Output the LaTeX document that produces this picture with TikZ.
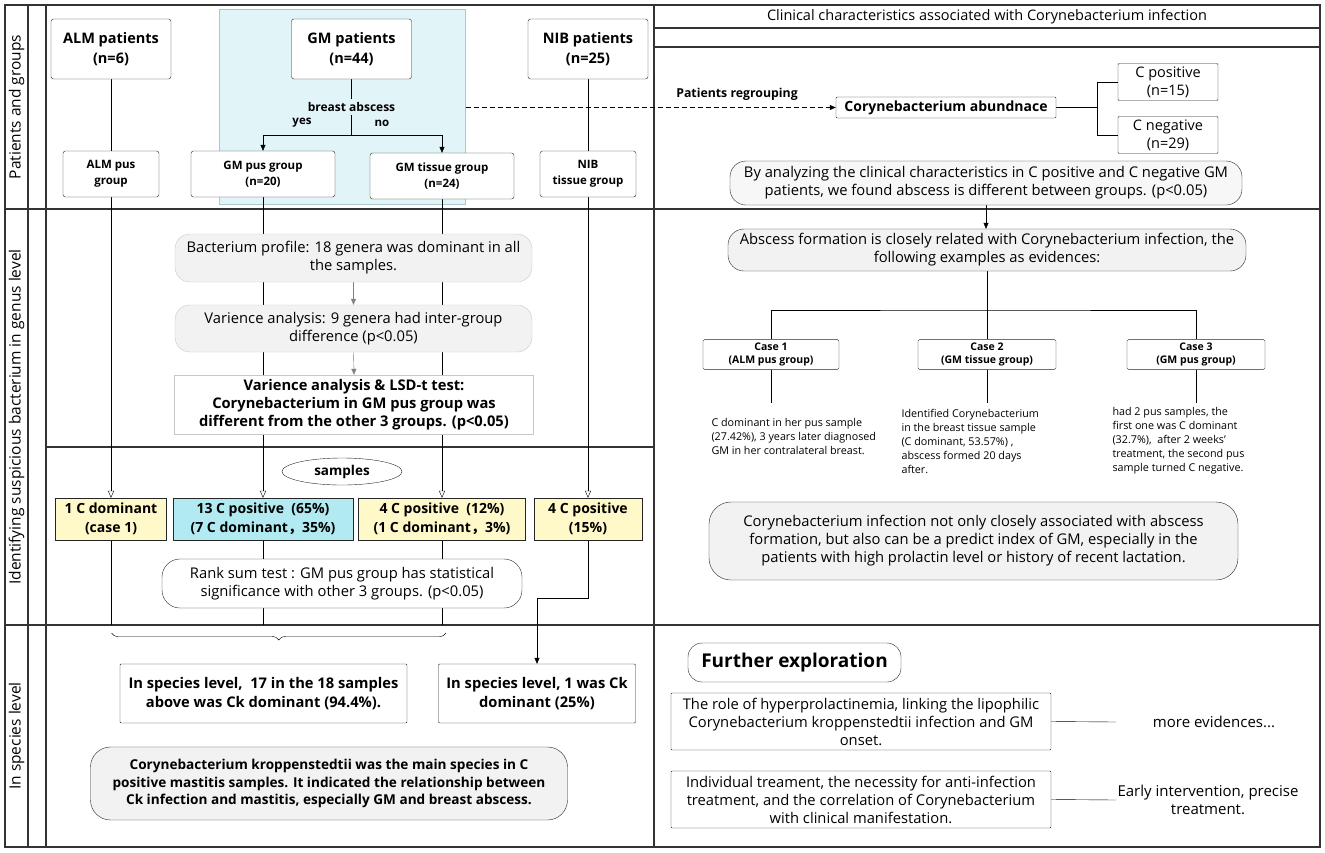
\documentclass[tikz,border=0pt]{standalone}
\usepackage{fontspec}
\setmainfont{Open Sans}
\newfontfamily\cjk{Noto Sans CJK SC}
\usepackage{tikz}
\usetikzlibrary{arrows.meta}
\usetikzlibrary{shapes.geometric}
\usetikzlibrary{decorations.pathreplacing}

\definecolor{bluebg}{HTML}{E1F5F8}
\definecolor{blueln}{HTML}{A9C8CD}
\definecolor{greyfill}{HTML}{F2F2F2}
\definecolor{greyln}{HTML}{C8C8C8}
\definecolor{yfill}{HTML}{FFF8C8}
\definecolor{cfill}{HTML}{B2EAF2}

\newcommand{\fsz}[2]{\fontsize{#1}{#2}\selectfont}

\pgfdeclarelayer{back}
\pgfdeclarelayer{wires}
\pgfsetlayers{back,wires,main}

\tikzset{
  frame/.style={draw=black!80, line width=1.3pt},
  lanelab/.style={rotate=90, font=\fsz{15.5}{18}},
  pbox/.style={draw=black!85, fill=white, rounded corners=2.5pt, align=center,
    font=\fsz{14.5}{20}\bfseries, minimum width=120, minimum height=60},
  gbox/.style={draw=black!85, fill=white, rounded corners=2.5pt, align=center,
    font=\fsz{11.5}{16}\bfseries, minimum height=46},
  sbox/.style={draw=black!85, fill=yfill, align=center,
    font=\fsz{14}{19}\bfseries, minimum height=42},
  plainbox/.style={draw=black!85, fill=white, rounded corners=1pt, align=center,
    font=\fsz{14.75}{18}},
  softbox/.style={draw=greyln, fill=greyfill, rounded corners=15pt, align=center,
    font=\fsz{14.75}{18}},
  roundbox/.style={draw=black!85, fill=greyfill, rounded corners=16pt, align=center,
    font=\fsz{14.75}{18}},
  casebox/.style={draw=black!85, fill=white, rounded corners=1.5pt, align=center,
    font=\fsz{10.5}{13}\bfseries, minimum height=26},
  casetxt/.style={anchor=west, align=left, font=\fsz{10.75}{14}},
  arr/.style={-{Triangle[length=6pt,width=5pt]}},
  oarr/.style={-{Triangle[open,length=7pt,width=6pt]}},
}

\begin{document}
\begin{tikzpicture}[x=1pt,y=-1pt,line width=1.1pt]
  \useasboundingbox (0,0) rectangle (1325,852);

  % lanes and frame
  \begin{pgfonlayer}{back}
    \draw[frame] (5,5) rectangle (1320,847);
    \draw[frame] (28,5) -- (28,847);
    \draw[frame] (46,5) -- (46,847);
    \draw[frame] (654,5) -- (654,847);
    \draw[frame] (5,209) -- (1320,209);
    \draw[frame] (5,625) -- (1320,625);
    \draw[frame] (46,447) -- (654,447);
    \draw[frame] (654,28) -- (1320,28);
    \draw[frame] (654,47) -- (1320,47);
    \node[draw=blueln, fill=bluebg, line width=1pt, inner sep=0pt,
      minimum width=246, minimum height=195] (gmarea) at (342,106.5) {};
  \end{pgfonlayer}

  \node[lanelab] (lab1) at (16.5,107) {Patients and groups};
  \node[lanelab] (lab2) at (16.5,417) {Identifying suspicious bacterium in genus level};
  \node[lanelab] (lab3) at (16.5,736) {In species level};

  % patients and groups
  \node[pbox] (alm) at (111,49) {ALM patients\\(n=6)};
  \node[pbox] (gm) at (351.5,49) {GM patients\\(n=44)};
  \node[pbox] (nib) at (588,49) {NIB patients\\(n=25)};
  \node[fill=bluebg, inner sep=3pt, font=\fsz{12}{14}\bfseries] (absq) at (351.5,107) {breast abscess};
  \node[font=\fsz{11.5}{13}\bfseries] (yes) at (302,123) {yes};
  \node[font=\fsz{11.5}{13}\bfseries] (no) at (382,123) {no};
  \coordinate (split) at (351.5,135);
  \node[gbox, minimum width=96] (almpus) at (111,174) {ALM pus\\group};
  \node[gbox, minimum width=144] (gmpus) at (263,174) {GM pus group\\(n=20)};
  \node[gbox, minimum width=144] (gmtis) at (442,176) {GM tissue group\\(n=24)};
  \node[gbox, minimum width=96] (nibtis) at (588,174) {NIB\\tissue group};

  % genus level
  \node[softbox, minimum width=357, minimum height=48] (profile) at (353.5,258)
    {Bacterium profile: 18 genera was dominant in all\\the samples.};
  \node[softbox, minimum width=357, minimum height=47] (varia) at (353.5,328.5)
    {Varience analysis: 9 genera had inter-group\\difference (p<0.05)};
  \node[draw=greyln, fill=white, align=center, font=\fsz{14.7}{18}\bfseries,
    minimum width=359, minimum height=59] (lsd) at (354,404.5)
    {Varience analysis \& LSD-t test:\\Corynebacterium in GM pus group was\\different from the other 3 groups. (p<0.05)};
  \node[draw=black!85, fill=white, ellipse, font=\fsz{13.5}{15}\bfseries,
    minimum width=120, minimum height=27, inner sep=0pt] (samples) at (342,471.5) {samples};
  \node[sbox, minimum width=111] (y1) at (111,519) {1 C dominant\\(case 1)};
  \node[sbox, fill=cfill, minimum width=180] (y2) at (263,519)
    {13 C positive \ (65\%)\\(7 C dominant{\cjk ，}35\%)};
  \node[sbox, minimum width=167] (y3) at (442,519)
    {4 C positive \ (12\%)\\(1 C dominant{\cjk ，}3\%)};
  \node[sbox, minimum width=108] (y4) at (588,519) {4 C positive\\(15\%)};
  \node[draw=black!85, fill=white, rounded corners=18pt, align=center, font=\fsz{14.75}{18},
    minimum width=360, minimum height=49] (rank) at (342,583.5)
    {Rank sum test : GM pus group has statistical\\significance with other 3 groups. (p<0.05)};
  \coordinate (bendy) at (0,598);
  \coordinate (lanethree) at (0,625);

  % species level
  \coordinate (braceL) at (111.5,633);
  \coordinate (braceR) at (446,633);
  \node[plainbox, font=\fsz{14.7}{18.5}\bfseries, minimum width=287, minimum height=59] (sp1) at (263.5,693.5)
    {In species level, \ 17 in the 18 samples\\above was Ck dominant (94.4\%).};
  \node[plainbox, font=\fsz{14.7}{18.5}\bfseries, minimum width=197, minimum height=59] (sp2) at (537,693.5)
    {In species level, 1 was Ck\\dominant (25\%)};
  \node[roundbox, font=\fsz{13.6}{17.5}\bfseries, rounded corners=20pt,
    minimum width=477, minimum height=73] (ck) at (329,783.5)
    {Corynebacterium kroppenstedtii was the main species in C\\positive mastitis samples. It indicated the relationship between\\Ck infection and mastitis, especially GM and breast abscess.};

  % clinical characteristics
  \node[font=\fsz{14.5}{16}] (title) at (987,17)
    {Clinical characteristics associated with Corynebacterium infection};
  \node[font=\fsz{12.3}{14}\bfseries] (regroup) at (737,94) {Patients regrouping};
  \node[plainbox, font=\fsz{14}{17}\bfseries, minimum width=220, minimum height=21,
    inner sep=1pt] (coryne) at (946,107.5) {Corynebacterium abundnace};
  \node[plainbox, font=\fsz{14.5}{18}, minimum width=100, minimum height=37, inner sep=1pt] (cpos) at (1168,82) {C positive\\(n=15)};
  \node[plainbox, font=\fsz{14.5}{18}, minimum width=100, minimum height=37, inner sep=1pt] (cneg) at (1168,135) {C negative\\(n=29)};
  \coordinate (fork) at (1097,107.5);
  \node[roundbox, fill=greyfill!60, minimum width=512, minimum height=44, inner sep=2pt] (analyze) at (986,183)
    {By analyzing the clinical characteristics in C positive and C negative GM\\patients, we found abscess is different between groups. (p<0.05)};
  \node[roundbox, minimum width=518, minimum height=42, inner sep=2pt] (abscessbox) at (987,250)
    {Abscess formation is closely related with Corynebacterium infection, the\\following examples as evidences:};
  \coordinate (hubrow) at (0,310);
  \coordinate (hub) at (abscessbox.south |- hubrow);
  \node[casebox, minimum width=136] (case1) at (771,354.5) {Case 1\\(ALM pus group)};
  \node[casebox, minimum width=138] (case2) at (987,354.5) {Case 2\\(GM tissue group)};
  \node[casebox, minimum width=138] (case3) at (1196,354.5) {Case 3\\(GM pus group)};
  \coordinate (caseend) at (0,403);
  \node[casetxt] (case1txt) at (708,436)
    {C dominant in her pus sample\\(27.42\%), 3 years later diagnosed\\GM in her contralateral breast.};
  \node[casetxt] (case2txt) at (898,441)
    {Identified Corynebacterium\\in the breast tissue sample\\(C dominant, 53.57\%) ,\\abscess formed 20 days\\after.};
  \node[casetxt] (case3txt) at (1109,441)
    {had 2 pus samples, the\\first one was C dominant\\(32.7\%), \ after 2 weeks'\\treatment, the second pus\\sample turned C negative.};
  \node[roundbox, rounded corners=22pt, minimum width=529, minimum height=78] (concl) at (973.5,541)
    {Corynebacterium infection not only closely associated with abscess\\formation, but also can be a predict index of GM, especially in the\\patients with high prolactin level or history of recent lactation.};

  % further exploration
  \node[draw=black!85, fill=white, rounded corners=14pt, font=\fsz{19}{22}\bfseries,
    minimum width=213, minimum height=39, inner sep=2pt] (further) at (794.5,662.5) {Further exploration};
  \node[plainbox, minimum width=380, minimum height=57, inner sep=2pt] (roleA) at (861,721.5)
    {The role of hyperprolactinemia, linking the lipophilic\\Corynebacterium kroppenstedtii infection and GM\\onset.};
  \node[font=\fsz{15}{18}] (moreA) at (1214,722) {more evidences...};
  \coordinate (endA) at (1116,722);
  \node[plainbox, minimum width=380, minimum height=57, inner sep=2pt] (roleB) at (861,799.5)
    {Individual treament, the necessity for anti-infection\\treatment, and the correlation of Corynebacterium\\with clinical manifestation.};
  \node[align=center, font=\fsz{15}{18}, inner sep=1pt] (early) at (1208,800)
    {Early intervention, precise\\treatment.};

  % connectors
  \begin{pgfonlayer}{wires}
    \draw (alm.south) -- (almpus.north);
    \draw (nib.south) -- (nibtis.north);
    \draw (gm.south) -- (split);
    \draw[arr] (split) -| (gmpus.north);
    \draw[arr] (split) -| (gmtis.north);
    \draw[oarr] (almpus.south) -- (y1.north);
    \draw[oarr] (gmpus.south) -- (y2.north);
    \draw[oarr] (gmtis.south) -- (y3.north);
    \draw[oarr] (nibtis.south) -- (y4.north);
    \draw[gray, -{Triangle[length=6pt,width=5pt]}] (profile.south) -- (varia.north);
    \draw[gray, -{Triangle[length=6pt,width=5pt]}] (varia.south) -- (lsd.north);
    \draw (y1.south) -- (y1.south |- lanethree);
    \draw (y2.south) -- (y2.south |- lanethree);
    \draw (y3.south) -- (y3.south |- lanethree);
    \draw[arr] (y4.south) -- (y4.south |- bendy) -| (sp2.north);
    \draw[decorate, decoration={brace, mirror, amplitude=7pt}] (braceL) -- (braceR);
    \draw[dashed, dash pattern=on 5pt off 3pt, arr] (gmarea.east |- coryne.west) -- (coryne.west);
    \draw (coryne.east) -- (fork);
    \draw (cpos.west) -| (fork) |- (cneg.west);
    \draw[arr] (analyze.south) -- (analyze.south |- abscessbox.north);
    \draw (abscessbox.south) -- (hub);
    \draw (case1.north) |- (hub) -| (case3.north);
    \draw (hub) -- (case2.north);
    \draw (case1.south) -- (case1.south |- caseend);
    \draw (case2.south) -- (case2.south |- caseend);
    \draw (case3.south) -- (case3.south |- caseend);
    \draw (roleA.east) -- (endA);
    \draw (roleB.east) -- (early.west);
  \end{pgfonlayer}
\end{tikzpicture}
\end{document}
